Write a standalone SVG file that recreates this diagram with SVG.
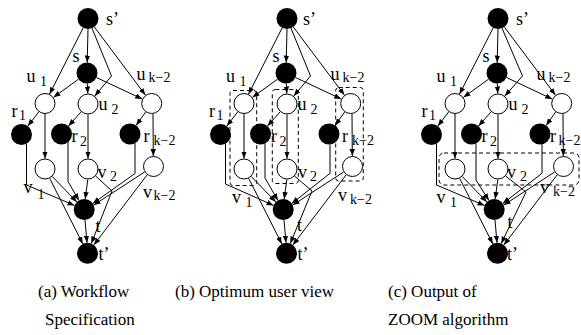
<svg xmlns="http://www.w3.org/2000/svg" width="581" height="335" viewBox="0 0 581 335">
<style>
.f{fill:#000}
.o{fill:#fff;stroke:#000;stroke-width:1}
.e{fill:none;stroke:#000;stroke-width:1;marker-end:url(#ah)}
.bx{fill:none;stroke:#000;stroke-width:1;stroke-dasharray:4 3}
text{font-family:"Liberation Serif","Times New Roman",serif;font-size:18px;fill:#000}
.sb{font-size:14px}
.cap{font-size:17px}
</style>
<defs>
<marker id="ah" markerWidth="8" markerHeight="6" refX="7" refY="3" orient="auto" markerUnits="userSpaceOnUse"><path d="M0,0.3 L7,3 L0,5.7 Z" fill="#000"/></marker>
</defs>
<rect width="581" height="335" fill="#fff"/>

<!-- Panel (a) -->
<g id="panel-a">
<g id="a-edges">
<path class="e" d="M88,29 L87.2,62.5"/>
<path class="e" d="M83.2,27.8 L49.5,94.2"/>
<path class="e" d="M92,28.2 L111.5,76 L94.8,96"/>
<path class="e" d="M94.3,26.9 L145.4,95.1"/>
<path class="e" d="M78.5,79.2 L53.5,97.3"/>
<path class="e" d="M87.3,83.5 L87.8,93.5"/>
<path class="e" d="M96.5,77.5 L142.2,99"/>
<path class="e" d="M38.7,111.9 L27.8,126.1"/>
<path class="e" d="M45,114 L45,158.5"/>
<path class="e" d="M81,111.9 L68.5,126.1"/>
<path class="e" d="M88,114.5 L88,158.5"/>
<path class="e" d="M145.6,112.1 L136.1,125.4"/>
<path class="e" d="M153,114 L153.3,156"/>
<path class="e" d="M26.5,143.7 L26.5,185 L74.5,205.4"/>
<path class="e" d="M68,142.2 L68,181.5 L78.9,200.4"/>
<path class="e" d="M135,143.2 L135,173.5 L92.8,203.5"/>
<path class="e" d="M52.3,176.5 L76.9,202"/>
<path class="e" d="M49.7,178.4 L82.8,243.9"/>
<path class="e" d="M87.8,179.5 L85.2,199"/>
<path class="e" d="M95.7,176.1 L112,191 L91.3,243.5"/>
<path class="e" d="M144.6,172 L93.7,205.1"/>
<path class="e" d="M147.1,174.9 L93.9,244.9"/>
<path class="e" d="M85,220 L87,242.8"/>
</g>
<g id="a-sp"><circle class="f" cx="88" cy="18.5" r="10.5"/><text x="106" y="25">s’</text></g>
<g id="a-s"><circle class="f" cx="87" cy="73" r="10.5"/><text x="72.5" y="62">s</text></g>
<g id="a-u1"><circle class="o" cx="45" cy="103.5" r="10"/><text x="26.5" y="81.5">u</text><text class="sb" x="40" y="86">1</text></g>
<g id="a-u2"><circle class="o" cx="88" cy="104" r="10"/><text x="98.5" y="110">u</text><text class="sb" x="111.5" y="113.5">2</text></g>
<g id="a-uk"><circle class="o" cx="151.7" cy="103.5" r="10"/><text x="136.5" y="80">u</text><text class="sb" x="148.5" y="82">k−2</text></g>
<g id="a-r1"><circle class="f" cx="21.5" cy="134.5" r="10.5"/><text x="11.5" y="116.5">r</text><text class="sb" x="19" y="120">1</text></g>
<g id="a-r2"><circle class="f" cx="61.5" cy="134" r="10.5"/><text x="71.5" y="141.5">r</text><text class="sb" x="80" y="146">2</text></g>
<g id="a-rk"><circle class="f" cx="130" cy="134" r="10.5"/><text x="143.5" y="141.5">r</text><text class="sb" x="153.5" y="145">k−2</text></g>
<g id="a-v1"><circle class="o" cx="45" cy="169" r="10"/><text x="23.5" y="193">v</text><text class="sb" x="37.5" y="199">1</text></g>
<g id="a-v2"><circle class="o" cx="88" cy="169" r="10"/><text x="97.5" y="178">v</text><text class="sb" x="110" y="181">2</text></g>
<g id="a-vk"><circle class="o" cx="153.5" cy="166.5" r="10"/><text x="143" y="197.5">v</text><text class="sb" x="153.5" y="200">k−2</text></g>
<g id="a-t"><circle class="f" cx="84.2" cy="209.5" r="10.5"/><text x="95.5" y="232">t</text></g>
<g id="a-tp"><circle class="f" cx="87.5" cy="253.3" r="10.5"/><text x="98.5" y="260">t’</text></g>
</g>

<!-- Panel (b) -->
<g id="panel-b" transform="translate(199,0)">
<g id="b-edges">
<path class="e" d="M88,29 L87.2,62.5"/>
<path class="e" d="M83.2,27.8 L49.5,94.2"/>
<path class="e" d="M92,28.2 L111.5,76 L94.8,96"/>
<path class="e" d="M94.3,26.9 L145.4,95.1"/>
<path class="e" d="M78.5,79.2 L53.5,97.3"/>
<path class="e" d="M87.3,83.5 L87.8,93.5"/>
<path class="e" d="M96.5,77.5 L142.2,99"/>
<path class="e" d="M38.7,111.9 L27.8,126.1"/>
<path class="e" d="M45,114 L45,158.5"/>
<path class="e" d="M81,111.9 L68.5,126.1"/>
<path class="e" d="M88,114.5 L88,158.5"/>
<path class="e" d="M145.6,112.1 L136.1,125.4"/>
<path class="e" d="M153,114 L153.3,156"/>
<path class="e" d="M26.5,143.7 L26.5,184 L74.5,205.4"/>
<path class="e" d="M66,143.5 L66,178 L78.9,200.4"/>
<path class="e" d="M131,144.5 L131,173.3 L92.8,203.5"/>
<path class="e" d="M52.3,176.5 L76.9,202"/>
<path class="e" d="M49.7,178.4 L82.8,243.9"/>
<path class="e" d="M87.8,179.5 L85.2,199"/>
<path class="e" d="M95.7,176.1 L113,191 L91.3,243.5"/>
<path class="e" d="M144.6,172 L93.7,205.1"/>
<path class="e" d="M147.1,174.9 L93.9,244.9"/>
<path class="e" d="M85,220 L87,242.8"/>
</g>
<g id="b-box1"><rect class="bx" x="31" y="90.5" width="26.7" height="95" rx="3"/></g>
<g id="b-box2"><rect class="bx" x="73.3" y="89.5" width="26" height="94" rx="3"/></g>
<g id="b-box3"><rect class="bx" x="136.7" y="87.5" width="27.6" height="93.5" rx="3"/></g>
<g id="b-sp"><circle class="f" cx="88" cy="18.5" r="10.5"/><text x="104" y="25">s’</text></g>
<g id="b-s"><circle class="f" cx="87" cy="73" r="10.5"/><text x="73.5" y="62">s</text></g>
<g id="b-u1"><circle class="o" cx="45" cy="103.5" r="10"/><text x="27" y="81.5">u</text><text class="sb" x="40.5" y="86">1</text></g>
<g id="b-u2"><circle class="o" cx="88" cy="104" r="10"/><text x="98.5" y="110">u</text><text class="sb" x="111.5" y="113.5">2</text></g>
<g id="b-uk"><circle class="o" cx="151.7" cy="103.5" r="10"/><text x="131.5" y="80">u</text><text class="sb" x="143.5" y="82">k−2</text></g>
<g id="b-r1"><circle class="f" cx="21.5" cy="134.5" r="10.5"/><text x="10" y="116.5">r</text><text class="sb" x="17.5" y="120">1</text></g>
<g id="b-r2"><circle class="f" cx="61.5" cy="134" r="10.5"/><text x="72" y="141.5">r</text><text class="sb" x="80.5" y="146">2</text></g>
<g id="b-rk"><circle class="f" cx="130" cy="134" r="10.5"/><text x="143" y="141.5">r</text><text class="sb" x="153" y="145">k−2</text></g>
<g id="b-v1"><circle class="o" cx="45" cy="169" r="10"/><text x="33" y="203">v</text><text class="sb" x="46.5" y="207">1</text></g>
<g id="b-v2"><circle class="o" cx="88" cy="169" r="10"/><text x="99" y="178">v</text><text class="sb" x="111" y="181">2</text></g>
<g id="b-vk"><circle class="o" cx="153.5" cy="166.5" r="10"/><text x="139" y="201">v</text><text class="sb" x="151" y="204">k−2</text></g>
<g id="b-t"><circle class="f" cx="84.2" cy="209.5" r="10.5"/><text x="98" y="231">t</text></g>
<g id="b-tp"><circle class="f" cx="87.5" cy="253.3" r="10.5"/><text x="98.5" y="260">t’</text></g>
</g>

<!-- Panel (c) -->
<g id="panel-c" transform="translate(410,0)">
<g id="c-edges">
<path class="e" d="M88,29 L87.2,62.5"/>
<path class="e" d="M83.2,27.8 L49.5,94.2"/>
<path class="e" d="M92,28.2 L112.5,76 L94.8,96"/>
<path class="e" d="M94.3,26.9 L145.4,95.1"/>
<path class="e" d="M78.5,79.2 L53.5,97.3"/>
<path class="e" d="M87.3,83.5 L87.8,93.5"/>
<path class="e" d="M96.5,77.5 L142.2,99"/>
<path class="e" d="M38.7,111.9 L27.8,126.1"/>
<path class="e" d="M45,114 L45,158.5"/>
<path class="e" d="M81,111.9 L68.5,126.1"/>
<path class="e" d="M88,114.5 L88,158.5"/>
<path class="e" d="M145.6,112.1 L136.1,125.4"/>
<path class="e" d="M153,114 L153.3,156"/>
<path class="e" d="M26.5,143.7 L26.5,185 L74.5,205.4"/>
<path class="e" d="M66,143.5 L66,180 L78.9,200.4"/>
<path class="e" d="M132,144.1 L132,173.3 L92.8,203.5"/>
<path class="e" d="M52.3,176.5 L76.9,202"/>
<path class="e" d="M49.7,178.4 L82.8,243.9"/>
<path class="e" d="M87.8,179.5 L85.2,199"/>
<path class="e" d="M95.7,176.1 L116,192 L91.3,243.5"/>
<path class="e" d="M144.6,172 L93.7,205.1"/>
<path class="e" d="M147.1,174.9 L93.9,244.9"/>
<path class="e" d="M85,220 L87,242.8"/>
</g>
<g id="c-box"><rect class="bx" x="29" y="153" width="140" height="32" rx="5"/></g>
<g id="c-sp"><circle class="f" cx="88" cy="18.5" r="10.5"/><text x="106" y="25">s’</text></g>
<g id="c-s"><circle class="f" cx="87" cy="73" r="10.5"/><text x="72.5" y="62">s</text></g>
<g id="c-u1"><circle class="o" cx="45" cy="103.5" r="10"/><text x="26.5" y="81.5">u</text><text class="sb" x="40" y="86">1</text></g>
<g id="c-u2"><circle class="o" cx="88" cy="104" r="10"/><text x="98.5" y="110">u</text><text class="sb" x="111.5" y="113.5">2</text></g>
<g id="c-uk"><circle class="o" cx="151.7" cy="103.5" r="10"/><text x="126.5" y="80">u</text><text class="sb" x="138.5" y="82">k−2</text></g>
<g id="c-r1"><circle class="f" cx="21.5" cy="134.5" r="10.5"/><text x="11.5" y="116.5">r</text><text class="sb" x="19" y="120">1</text></g>
<g id="c-r2"><circle class="f" cx="61.5" cy="134" r="10.5"/><text x="71.5" y="141.5">r</text><text class="sb" x="80" y="146">2</text></g>
<g id="c-rk"><circle class="f" cx="130" cy="134" r="10.5"/><text x="140" y="141.5">r</text><text class="sb" x="148.5" y="145">k−2</text></g>
<g id="c-v1"><circle class="o" cx="45" cy="169" r="10"/><text x="26.5" y="203">v</text><text class="sb" x="40" y="207">1</text></g>
<g id="c-v2"><circle class="o" cx="88" cy="169" r="10"/><text x="97" y="178">v</text><text class="sb" x="110" y="181">2</text></g>
<g id="c-vk"><circle class="o" cx="153.5" cy="166.5" r="10"/><text x="130" y="193">v</text><text class="sb" x="143" y="196">k−2</text></g>
<g id="c-t"><circle class="f" cx="84.2" cy="209.5" r="10.5"/><text x="97.5" y="228">t</text></g>
<g id="c-tp"><circle class="f" cx="87.5" cy="253.3" r="10.5"/><text x="97" y="260">t’</text></g>
</g>

<g id="captions">
<text class="cap" x="38" y="297">(a) Workflow</text>
<text class="cap" x="45" y="325">Specification</text>
<text class="cap" x="175" y="297">(b) Optimum user view</text>
<text class="cap" x="388" y="297">(c) Output of</text>
<text class="cap" x="388" y="325">ZOOM algorithm</text>
</g>
</svg>
